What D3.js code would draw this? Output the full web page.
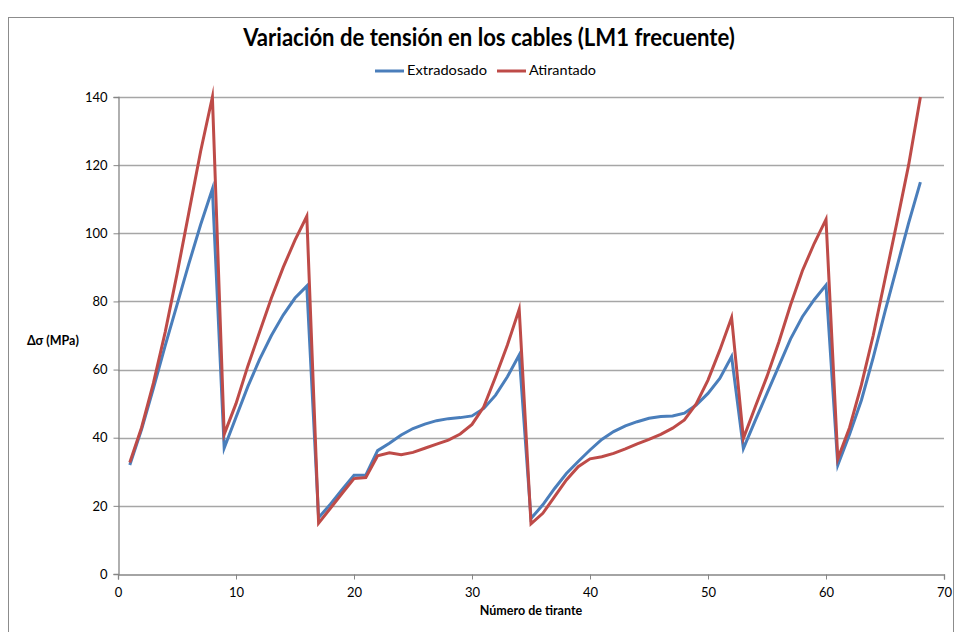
<!DOCTYPE html>
<html>
<head>
<meta charset="utf-8">
<script src="https://cdn.jsdelivr.net/npm/d3@7"></script>
<style>
  html, body { margin: 0; padding: 0; background: #fff; }
  svg { display: block; }
  text { font-family: Lato, "Open Sans", sans-serif; fill: #000; }
</style>
</head>
<body>
<svg id="chart" width="955" height="632"></svg>
<script>
// ---- data ----
const tirantes = d3.range(1, 69);
const extradosado = [
  32, 42.5, 54.5, 67, 79, 91, 102.5, 113,
  37, 46, 55, 63, 70, 76, 81, 84.5,
  16.5, 20.5, 24.8, 29, 29, 36.2, 38.4, 40.8, 42.7, 44.0, 45.0, 45.6, 45.9, 46.4, 48.6, 52.5, 57.9, 64.3,
  16.3, 20.3, 25.1, 29.5, 33.0, 36.4, 39.5, 41.8, 43.5, 44.7, 45.7, 46.2, 46.4, 47.2, 49.6, 53.0, 57.4, 63.8,
  36.8, 45, 53, 61, 69, 75.5, 80.5, 84.8,
  32, 41, 51, 63.5, 77, 90, 103, 115
];
const atirantado = [
  32.7, 43, 56, 71, 88, 106, 124, 140,
  41, 50, 61, 71, 81, 90, 98, 105,
  14.9, 19.3, 23.7, 28, 28.3, 34.7, 35.6, 35.0, 35.7, 36.9, 38.1, 39.3, 41.1, 43.9, 49.1, 57.9, 67.2, 77.7,
  14.7, 17.8, 22.7, 27.6, 31.5, 33.8, 34.4, 35.4, 36.7, 38.2, 39.5, 41.0, 42.8, 45.2, 49.9, 56.9, 65.7, 75.3,
  39.8, 49, 58, 68, 79, 89, 97, 104.1,
  33.8, 43, 55.5, 70, 86.5, 103, 120, 140
];
const seriesNames = ["Extradosado", "Atirantado"];
const seriesColors = ["#4a7ebb", "#be4b48"];
const xTicks = [0, 10, 20, 30, 40, 50, 60, 70];
const yTicks = [0, 20, 40, 60, 80, 100, 120, 140];
const titleText = "Variación de tensión en los cables (LM1 frecuente)";
const xTitle = "Número de tirante";
const yTitle = "Δσ (MPa)";

(function () {
const svg = d3.select("#chart");
const pLeft = 118, pRight = 944, pTop = 97, pBottom = 574;

// fit a text element horizontally into a given width by scaling it in x
function fitX(sel, cx, width, anchor) {
  const w = sel.node().getComputedTextLength();
  const s = width / w;
  sel.attr("transform", `translate(${cx},0) scale(${s},1) translate(${-cx},0)`);
}

// outer chart border
svg.append("rect")
  .attr("x", 8.5).attr("y", 17.5).attr("width", 945).attr("height", 640)
  .attr("fill", "none").attr("stroke", "#8c8c8c").attr("stroke-width", 1);

const x = d3.scaleLinear().domain([0, 70]).range([pLeft, pRight]);
const y = d3.scaleLinear().domain([0, 140]).range([pBottom, pTop]);

// gridlines
svg.append("g")
  .selectAll("line").data(yTicks.filter(d => d > 0)).join("line")
  .attr("x1", pLeft).attr("x2", pRight)
  .attr("y1", d => Math.round(y(d)) + 0.5).attr("y2", d => Math.round(y(d)) + 0.5)
  .attr("stroke", "#a6a6a6").attr("stroke-width", 1.3);

// y axis
const yAxis = svg.append("g")
  .attr("transform", `translate(${pLeft + 0.5},0)`)
  .call(d3.axisLeft(y).tickValues(yTicks).tickSize(5).tickPadding(6));
yAxis.select(".domain").attr("stroke", "#868686").attr("stroke-width", 1.3);
yAxis.selectAll(".tick line").attr("stroke", "#868686");
yAxis.selectAll(".tick text").style("font-size", "13px").style("font-family", "Lato, sans-serif").attr("fill", "#000");

// x axis
const xAxis = svg.append("g")
  .attr("transform", `translate(0,${pBottom + 0.5})`)
  .call(d3.axisBottom(x).tickValues(xTicks).tickSize(5).tickPadding(8));
xAxis.select(".domain").attr("stroke", "#868686").attr("stroke-width", 1.3);
xAxis.selectAll(".tick line").attr("stroke", "#868686");
xAxis.selectAll(".tick text").style("font-size", "13px").style("font-family", "Lato, sans-serif").attr("fill", "#000");

// lines
const line = d3.line().x((d, i) => x(tirantes[i])).y(d => y(d));
[extradosado, atirantado].forEach((vals, k) => {
  svg.append("path")
    .datum(vals)
    .attr("d", line)
    .attr("fill", "none")
    .attr("stroke", seriesColors[k])
    .attr("stroke-width", 3)
    .attr("stroke-linejoin", "miter")
    .attr("stroke-miterlimit", 10);
});

// title
const t = svg.append("text")
  .attr("x", 489).attr("y", 46)
  .attr("text-anchor", "middle")
  .style("font-weight", "bold")
  .style("font-size", "25px")
  .text(titleText);
fitX(t, 489, 492);

// legend
const legendItems = [
  { name: seriesNames[0], color: seriesColors[0], x0: 375, w: 80 },
  { name: seriesNames[1], color: seriesColors[1], x0: 497, w: 67 }
];
legendItems.forEach(it => {
  svg.append("line")
    .attr("x1", it.x0).attr("x2", it.x0 + 29)
    .attr("y1", 71).attr("y2", 71)
    .attr("stroke", it.color).attr("stroke-width", 3);
  const lt = svg.append("text")
    .attr("x", it.x0 + 32).attr("y", 75.5)
    .style("font-size", "13.5px")
    .text(it.name);
  fitX(lt, it.x0 + 32, it.w);
});

// axis titles
svg.append("text")
  .attr("x", 531).attr("y", 615)
  .attr("text-anchor", "middle")
  .style("font-weight", "bold").style("font-size", "12.5px")
  .text(xTitle);
svg.append("text")
  .attr("x", 27).attr("y", 345)
  .style("font-weight", "bold").style("font-size", "12.5px")
  .text(yTitle);
})();
</script>
</body>
</html>
